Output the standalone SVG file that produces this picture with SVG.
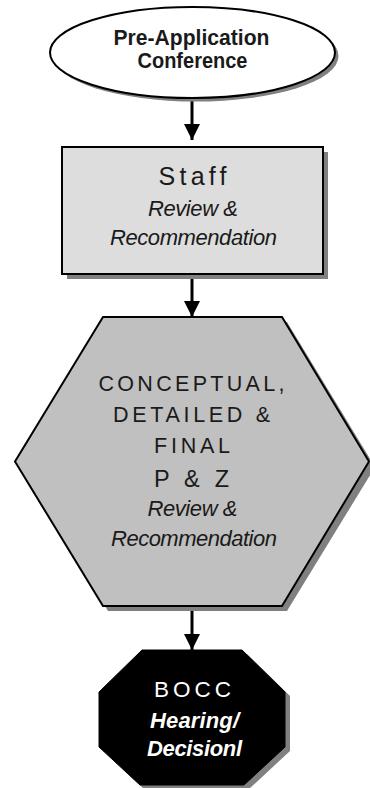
<svg xmlns="http://www.w3.org/2000/svg" width="370" height="788" viewBox="0 0 370 788">
<defs>
<style>
.shadow{fill:#808080;stroke:none}
.edge{stroke:#000;stroke-width:2}
.t{font-family:"Liberation Sans",Arial,sans-serif;fill:#1a1a1a;text-anchor:middle}
.it{font-style:italic}
.w{fill:#fff}
.conn line{stroke:#000;stroke-width:3}
</style>
<marker id="ah" markerUnits="userSpaceOnUse" markerWidth="17" markerHeight="16" refX="16" refY="8" orient="auto">
<path d="M0,0 L16,8 L0,16 Z" fill="#000"/>
</marker>
</defs>
<rect width="370" height="788" fill="#fff"/>

<g id="conn" class="conn">
<line x1="192" y1="99" x2="192" y2="140" marker-end="url(#ah)"/>
<line x1="192" y1="279" x2="192" y2="317" marker-end="url(#ah)"/>
<line x1="192" y1="611" x2="192" y2="650" marker-end="url(#ah)"/>
</g>

<g id="preapp">
<ellipse class="shadow" cx="196" cy="56" rx="142.5" ry="45.5"/>
<ellipse class="edge" cx="192.5" cy="52.5" rx="142.5" ry="45.5" fill="#fff"/>
<text class="t" x="191.5" y="45" font-size="21.5" font-weight="bold" textLength="156" lengthAdjust="spacingAndGlyphs">Pre-Application</text>
<text class="t" x="192.5" y="68" font-size="21.5" font-weight="bold" textLength="110" lengthAdjust="spacingAndGlyphs">Conference</text>
</g>

<g id="staff">
<rect class="shadow" x="67" y="152" width="261" height="127"/>
<rect class="edge" x="62" y="147" width="261" height="127" fill="#dddddd"/>
<text class="t" x="192.5" y="185" font-size="25" textLength="68">Staff</text>
<text class="t it" x="193" y="216" font-size="22" textLength="90">Review &amp;</text>
<text class="t it" x="193.5" y="245" font-size="22" textLength="167">Recommendation</text>
</g>

<g id="pz">
<polygon class="shadow" points="108,322 287,322 375,467 287,611 108,611 20,467"/>
<polygon class="edge" points="103,317 282,317 369,461.5 282,606 103,606 15,461.5" fill="#c0c0c0"/>
<text class="t" x="191.5" y="391" font-size="21.5" textLength="186">CONCEPTUAL,</text>
<text class="t" x="191.5" y="422" font-size="21.5" textLength="157">DETAILED &amp;</text>
<text class="t" x="192" y="453" font-size="21.5" textLength="76">FINAL</text>
<text class="t" x="191.5" y="487" font-size="23.5" textLength="75">P &amp; Z</text>
<text class="t it" x="192.5" y="516" font-size="22" textLength="90">Review &amp;</text>
<text class="t it" x="194" y="546" font-size="22" textLength="166">Recommendation</text>
</g>

<g id="bocc">
<polygon class="shadow" points="147,654 247,654 290,696 290,751 248,790 145,790 104,751 104,696"/>
<polygon points="142,650 242,650 285,692 285,747 244,785 140,785 99,747 99,692" fill="#000" stroke="#000" stroke-width="1"/>
<text class="t w" x="192.5" y="697" font-size="22.5" textLength="77">BOCC</text>
<text class="t w it" x="194.5" y="728" font-size="22" font-weight="bold" textLength="89">Hearing/</text>
<text class="t w it" x="194.5" y="756" font-size="22" font-weight="bold" textLength="95">Decisionl</text>
</g>
</svg>
